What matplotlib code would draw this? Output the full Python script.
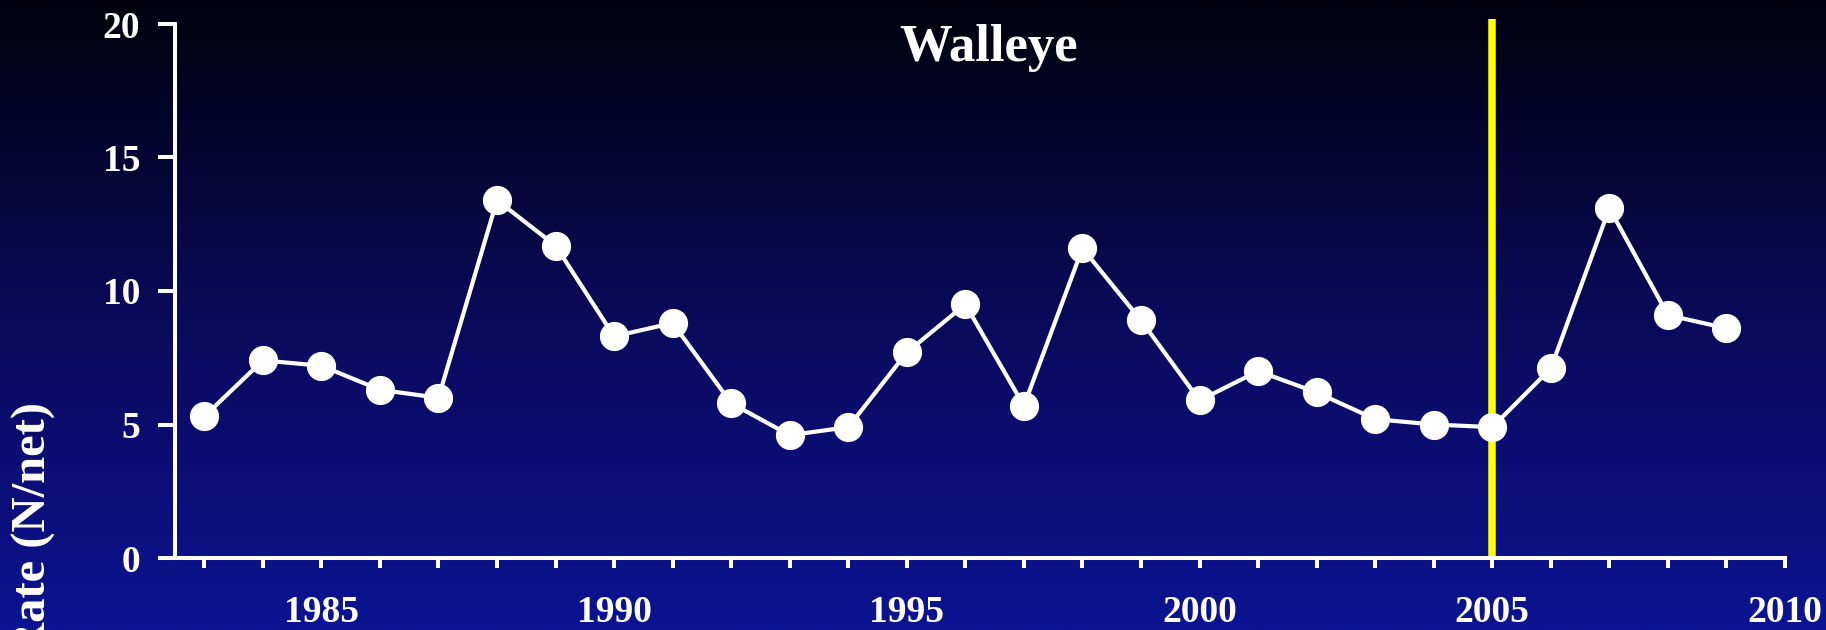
import matplotlib
matplotlib.use("Agg")
import matplotlib.pyplot as plt
import numpy as np
from matplotlib.colors import LinearSegmentedColormap
from matplotlib.ticker import MultipleLocator

years = list(range(1983, 2010))
catch_rate = [5.3, 7.4, 7.2, 6.3, 6.0, 13.4, 11.7, 8.3, 8.8, 5.8, 4.6, 4.9, 7.7,
              9.5, 5.7, 11.6, 8.9, 5.9, 7.0, 6.2, 5.2, 5.0, 4.9, 7.1, 13.1, 9.1, 8.6]
marker_year = 2005
title = "Walleye"
ylabel = "Rate (N/net)"

plt.rcParams['font.family'] = ['Liberation Serif', 'DejaVu Serif']
plt.rcParams['font.weight'] = 'bold'

fig = plt.figure(figsize=(18.26, 6.3), dpi=100)

# background gradient, black at top to navy at bottom
bg = fig.add_axes([0, 0, 1, 1], zorder=0)
cmap = LinearSegmentedColormap.from_list("bg", ["#02020e", "#0a0a5a", "#0c1492"])
grad = np.linspace(0, 1, 256).reshape(-1, 1)
bg.imshow(grad, aspect="auto", cmap=cmap, extent=[0, 1, 0, 1], origin="upper")
bg.axis("off")

ax = fig.add_axes([175 / 1826, 72 / 630, 1610 / 1826, 534 / 630], zorder=1)
ax.patch.set_alpha(0)

ax.plot([marker_year, marker_year], [0, 20.2], color="#ffff00", lw=5.4,
        solid_capstyle="butt", clip_on=False, zorder=2)
ax.plot(years, catch_rate, color="white", lw=3.0, marker="o", markersize=20,
        markerfacecolor="white", markeredgecolor="white", zorder=3, clip_on=False)

ax.set_xlim(1982.5, 2010)
ax.set_ylim(0, 20)
ax.xaxis.set_major_locator(MultipleLocator(5))
ax.xaxis.set_minor_locator(MultipleLocator(1))
ax.yaxis.set_major_locator(MultipleLocator(5))

for s in ["top", "right"]:
    ax.spines[s].set_visible(False)
for s in ["left", "bottom"]:
    ax.spines[s].set_color("white")
    ax.spines[s].set_linewidth(2.9)

ax.tick_params(axis="x", which="both", colors="white", length=7, width=2.9,
               direction="out", pad=20, labelsize=27)
ax.tick_params(axis="y", which="major", colors="white", length=12, width=2.9,
               direction="out", pad=13, labelsize=27)
for lab in ax.get_xticklabels() + ax.get_yticklabels():
    lab.set_fontweight("bold")

ax.text(0.5055, 0.955, title, transform=ax.transAxes, ha="center", va="center",
        color="white", fontsize=38, fontweight="bold")

fig.text(34 / 1826, 1 - 402 / 630, ylabel, rotation=90, ha="center", va="top",
         color="white", fontsize=35, fontweight="bold")

fig.savefig("out.png", dpi=100)
